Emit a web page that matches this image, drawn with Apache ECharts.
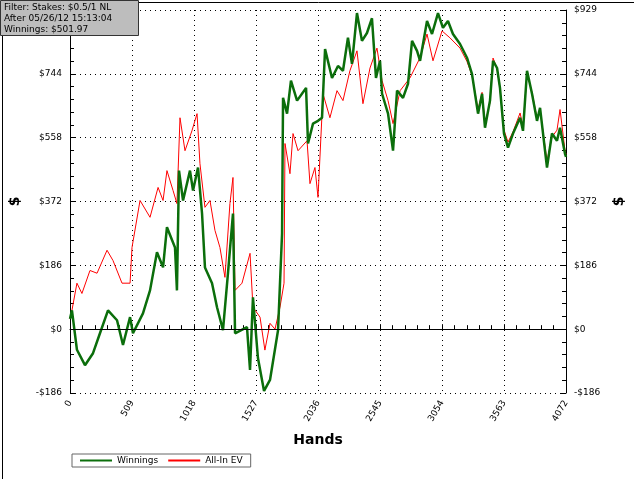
<!DOCTYPE html>
<html>
<head>
<meta charset="utf-8">
<script src="https://cdn.jsdelivr.net/npm/echarts@6/dist/echarts.min.js"></script>
<style>html,body{margin:0;padding:0;background:#fff}#chart{width:634px;height:479px}</style>
</head>
<body>
<div id="chart"></div>
<script>
// hands, dollars
const winnings = [
    [0, 30], [16, 55], [57, -60], [123, -105], [189, -70], [246, -12], [312, 55], [386, 26], [435, -46],
    [493, 35], [517, -12], [599, 46], [657, 113], [714, 224], [764, 180], [796, 297], [862, 238],
    [878, 113], [895, 462], [928, 375], [985, 462], [1010, 404], [1051, 471], [1084, 337], [1108, 180],
    [1166, 134], [1207, 64], [1256, -3], [1297, 163], [1338, 337], [1355, -12], [1453, 6], [1478, -119],
    [1502, 93], [1543, -84], [1593, -180], [1642, -148], [1708, -3], [1741, 279], [1749, 674], [1782, 628],
    [1814, 724], [1864, 666], [1938, 703], [1954, 541], [1995, 599], [2036, 607], [2069, 616], [2094, 816],
    [2151, 732], [2200, 767], [2241, 753], [2282, 849], [2315, 773], [2356, 921], [2397, 840], [2438, 863],
    [2479, 906], [2512, 732], [2545, 782], [2562, 686], [2611, 628], [2652, 520], [2685, 695], [2734, 674],
    [2775, 715], [2808, 840], [2849, 811], [2874, 782], [2931, 898], [2972, 860], [3021, 921], [3062, 878],
    [3103, 898], [3144, 860], [3202, 831], [3259, 791], [3300, 744], [3350, 628], [3383, 686], [3407, 587],
    [3448, 666], [3473, 782], [3506, 761], [3530, 703], [3563, 570], [3596, 529], [3637, 570], [3695, 616],
    [3719, 578], [3752, 753], [3793, 686], [3834, 607], [3859, 645], [3916, 471], [3957, 570], [3998, 549],
    [4023, 587], [4064, 511], [4072, 502]
];
const allInEV = [
    [0, 30], [16, 55], [57, 134], [98, 104], [164, 171], [222, 163], [304, 230], [353, 200], [427, 134],
    [493, 134], [509, 238], [575, 375], [657, 326], [723, 413], [764, 375], [796, 462], [846, 404],
    [878, 366], [903, 616], [944, 520], [1001, 578], [1043, 628], [1067, 482], [1108, 355], [1149, 375],
    [1190, 288], [1231, 238], [1272, 151], [1313, 366], [1338, 442], [1355, 113], [1412, 134], [1478, 221],
    [1502, 64], [1560, 35], [1600, -61], [1642, 17], [1683, 0], [1724, 64], [1757, 134], [1765, 541],
    [1806, 453], [1831, 570], [1872, 520], [1946, 549], [1970, 424], [2011, 471], [2036, 384], [2077, 686],
    [2134, 616], [2192, 695], [2241, 666], [2298, 753], [2356, 811], [2405, 657], [2463, 761], [2520, 819],
    [2562, 724], [2611, 666], [2652, 599], [2710, 695], [2791, 732], [2874, 791], [2931, 860], [2980, 782],
    [3054, 869], [3119, 849], [3202, 819], [3259, 780], [3300, 740], [3350, 640], [3383, 690], [3407, 600],
    [3448, 660], [3473, 790], [3506, 760], [3530, 700], [3563, 580], [3596, 545], [3637, 575], [3695, 630],
    [3719, 590], [3752, 745], [3793, 690], [3834, 615], [3859, 640], [3916, 490], [3957, 560], [3998, 580],
    [4023, 640], [4064, 520], [4072, 510]
];
const xTicks = [0, 509, 1018, 1527, 2036, 2545, 3054, 3563, 4072];
const yTicks = [-186, 0, 186, 372, 558, 744, 929];
const infoLines = ['Filter: Stakes: $0.5/1 NL', 'After 05/26/12 15:13:04', 'Winnings: $501.97'];

const chart = echarts.init(document.getElementById('chart'));
const font = 'DejaVu Sans';
function yLabel(v) {
    const t = yTicks[Math.round((v + 186) / 186)];
    return t < 0 ? '-$' + (-t) : '$' + t;
}
function xLabel(v) {
    return String(xTicks[Math.round(v / 509)]);
}
const yBase = {
    type: 'value', min: -186, max: 930, interval: 186,
    axisLine: { show: true, lineStyle: { color: '#000' } },
    axisTick: { show: true, inside: true, length: 5, lineStyle: { color: '#000' } },
    minorTick: { show: true, splitNumber: 5, length: 4, lineStyle: { color: '#000' } },
    axisLabel: { formatter: yLabel, color: '#000', fontSize: 9, fontFamily: font },
    name: '$', nameLocation: 'middle', nameRotate: 90,
    nameTextStyle: { fontSize: 14, fontWeight: 'bold', color: '#000', fontFamily: font }
};
chart.setOption({
    animation: false,
    grid: { left: 70, right: 68, top: 10, bottom: 86 },
    legend: {
        left: 72, top: 454, itemWidth: 32, itemHeight: 2, itemGap: 10,
        borderColor: '#666', borderWidth: 1, padding: [2, 8, 2, 8],
        textStyle: { fontSize: 9, fontFamily: font, color: '#000' },
        icon: 'rect',
        data: ['Winnings', 'All-In EV']
    },
    xAxis: {
        type: 'value', min: 0, max: 4072, interval: 509,
        axisLine: { lineStyle: { color: '#000' } },
        axisTick: { inside: true, length: 5, lineStyle: { color: '#000' } },
        minorTick: { show: true, splitNumber: 5, length: 4, lineStyle: { color: '#000' } },
        splitLine: { show: true, lineStyle: { type: [1, 4], color: '#000' } },
        axisLabel: { rotate: 60, fontSize: 9, color: '#000', fontFamily: font, formatter: xLabel },
        name: 'Hands', nameLocation: 'middle', nameGap: 40,
        nameTextStyle: { fontSize: 14, fontWeight: 'bold', color: '#000', fontFamily: font }
    },
    yAxis: [
        Object.assign({}, yBase, {
            position: 'left', nameGap: 48,
            splitLine: { show: true, lineStyle: { type: [1, 4], color: '#000' } }
        }),
        Object.assign({}, yBase, {
            position: 'right', nameGap: 46, splitLine: { show: false }
        })
    ],
    graphic: [
        {
            type: 'rect', left: 0, top: 0, z: 100,
            shape: { width: 138, height: 35 },
            style: { fill: '#bdbdbd', stroke: '#333', lineWidth: 1 }
        },
        {
            type: 'text', left: 4, top: 2, z: 101,
            style: { text: infoLines.join('\n'), fontSize: 9, lineHeight: 11, fontFamily: font, fill: '#000' }
        },
        {
            type: 'rect', left: 0, top: 0, z: -1, silent: true,
            shape: { x: 0.5, y: 0.5, width: 632, height: 477 },
            style: { fill: 'none', stroke: '#000', lineWidth: 1 }
        }
    ],
    series: [
        {
            name: 'Winnings', type: 'line', data: winnings, symbol: 'none', z: 3,
            lineStyle: { color: '#0b6e0b', width: 2.5 }, itemStyle: { color: '#0b6e0b' },
            markLine: {
                silent: true, symbol: 'none', label: { show: false },
                lineStyle: { color: '#000', type: 'solid', width: 1 },
                data: [{ yAxis: 0 }]
            }
        },
        {
            name: 'All-In EV', type: 'line', data: allInEV, symbol: 'none', z: 2,
            lineStyle: { color: '#ff0000', width: 1 }, itemStyle: { color: '#ff0000' }
        }
    ]
});
</script>
</body>
</html>
